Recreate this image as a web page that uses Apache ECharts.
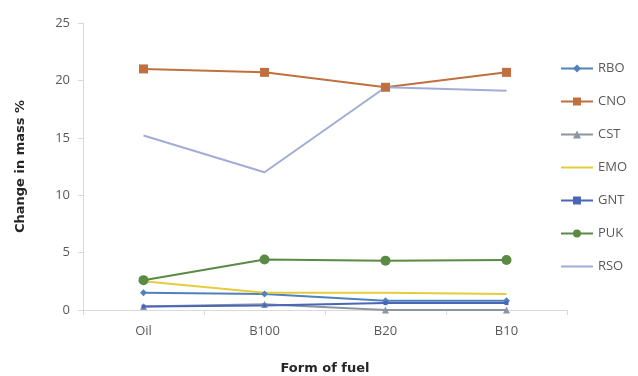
<!DOCTYPE html>
<html>
<head>
<meta charset="utf-8">
<script src="https://cdn.jsdelivr.net/npm/echarts@6/dist/echarts.min.js"></script>
<style>
  html, body { margin: 0; padding: 0; background: #fff; }
  #chart { width: 638px; height: 376px; }
</style>
</head>
<body>
<div id="chart"></div>
<script>
// Fuel forms along the x axis
const categories = ['Oil', 'B100', 'B20', 'B10'];

// Change in mass (%) per material
const rbo = [1.5, 1.4, 0.8, 0.8];
const cno = [21.0, 20.7, 19.4, 20.7];
const cst = [0.3, 0.5, 0.0, 0.0];
const emo = [2.5, 1.5, 1.5, 1.4];
const gnt = [0.3, 0.4, 0.6, 0.6];
const puk = [2.6, 4.4, 4.3, 4.35];
const rso = [15.2, 12.0, 19.4, 19.1];

const yTicks = { min: 0, max: 25, interval: 5 };

const labelFont = '"Open Sans", sans-serif';
const titleFont = '"DejaVu Sans", sans-serif';
const textGray = '#595959';

function line(name, data, color, symbol, size, width) {
  return {
    name, type: 'line', data,
    symbol: symbol === 'none' ? 'circle' : symbol,
    symbolSize: size,
    showSymbol: symbol !== 'none',
    lineStyle: { color, width: width || 2 },
    itemStyle: { color },
    emphasis: { disabled: true },
    animation: false
  };
}

const chart = echarts.init(document.getElementById('chart'), null, { renderer: 'canvas' });
chart.setOption({
  backgroundColor: '#ffffff',
  textStyle: { fontFamily: labelFont },
  grid: { left: 83, right: 71, top: 23, bottom: 66, outerBoundsMode: 'none', containLabel: false },
  legend: {
    orient: 'vertical',
    right: 6,
    top: 57,
    itemWidth: 32,
    itemHeight: 10,
    itemGap: 20,
    textStyle: { color: textGray, fontSize: 13, fontFamily: labelFont },
    data: [
      'RBO', 'CNO', 'CST',
      { name: 'EMO', itemStyle: { opacity: 0 } },
      'GNT', 'PUK',
      { name: 'RSO', itemStyle: { opacity: 0 } }
    ]
  },
  xAxis: {
    type: 'category',
    data: categories,
    boundaryGap: true,
    name: 'Form of fuel',
    nameLocation: 'middle',
    nameGap: 52,
    nameTextStyle: { color: '#262626', fontWeight: 'bold', fontSize: 13, fontFamily: titleFont },
    axisLine: { lineStyle: { color: '#d9d9d9', width: 1 } },
    axisTick: { show: true, alignWithLabel: false, length: 5, lineStyle: { color: '#d9d9d9' } },
    axisLabel: { color: textGray, fontSize: 13, margin: 15 }
  },
  yAxis: {
    type: 'value',
    min: yTicks.min, max: yTicks.max, interval: yTicks.interval,
    name: 'Change in mass %',
    nameLocation: 'middle',
    nameGap: 56,
    nameTextStyle: { color: '#262626', fontWeight: 'bold', fontSize: 13, fontFamily: titleFont },
    axisLine: { show: true, lineStyle: { color: '#d9d9d9', width: 1 } },
    axisTick: { show: true, length: 5, lineStyle: { color: '#d9d9d9' } },
    splitLine: { show: false },
    axisLabel: { color: textGray, fontSize: 13, margin: 13 }
  },
  series: [
    line('RBO', rbo, '#4f81bd', 'diamond', 7),
    line('CNO', cno, '#c0703e', 'rect', 9),
    line('CST', cst, '#8c96a0', 'triangle', 7),
    line('EMO', emo, '#e6cc3c', 'none', 6),
    line('GNT', gnt, '#4a66b8', 'rect', 4),
    line('PUK', puk, '#5b8a45', 'circle', 10),
    line('RSO', rso, '#a3acd8', 'none', 6)
  ]
});
</script>
</body>
</html>
